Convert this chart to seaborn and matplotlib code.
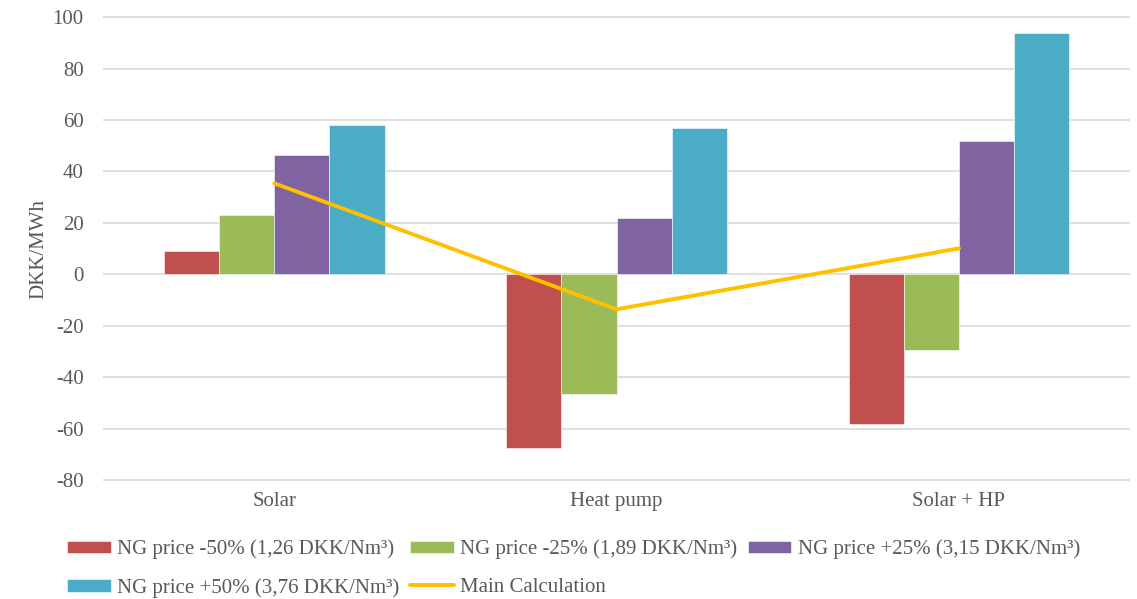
import numpy as np
import pandas as pd
import matplotlib
matplotlib.use("Agg")
import matplotlib.pyplot as plt
import seaborn as sns

# data
categories = ["Solar", "Heat pump", "Solar + HP"]
series_names = [
    "NG price -50% (1,26 DKK/Nm³)",
    "NG price -25% (1,89 DKK/Nm³)",
    "NG price +25% (3,15 DKK/Nm³)",
    "NG price +50% (3,76 DKK/Nm³)",
]
ng_minus50 = [9.0, -67.7, -58.4]
ng_minus25 = [23.0, -46.7, -29.6]
ng_plus25 = [46.3, 21.8, 52.0]
ng_plus50 = [58.0, 56.8, 93.8]
main_calc = [35.4, -13.6, 10.1]
line_name = "Main Calculation"

bar_colors = ["#C0504D", "#9BBB59", "#8064A2", "#4BACC6"]
line_color = "#FFC000"
text_color = "#595959"

sns.set_style("white")
plt.rcParams["font.family"] = ["Liberation Serif", "DejaVu Serif"]
plt.rcParams["axes.unicode_minus"] = False

df = pd.DataFrame({
    "category": categories * 4,
    "scenario": np.repeat(series_names, 3),
    "value": ng_minus50 + ng_minus25 + ng_plus25 + ng_plus50,
})

fig = plt.figure(figsize=(11.37, 5.99), dpi=100)
ax = fig.add_axes([0.0906, 0.1970, 0.9034, 0.7760])

sns.barplot(data=df, x="category", y="value", hue="scenario",
            hue_order=series_names, order=categories, palette=bar_colors,
            width=0.645, gap=0, saturation=1, edgecolor="white", linewidth=0.4,
            ax=ax, legend=True)
sns.lineplot(x=np.arange(len(categories)), y=main_calc, color=line_color,
             linewidth=2.8, ax=ax, label=line_name)

ax.set_xlim(-0.5, 2.5)
ax.set_ylim(-80.4, 100.4)
ax.set_yticks(np.arange(-80, 101, 20))
ax.yaxis.grid(True, color="#D9D9D9", linewidth=1.2)
ax.set_axisbelow(True)
for s in ax.spines.values():
    s.set_visible(False)
ax.tick_params(axis="both", length=0, labelsize=15, colors=text_color)
ax.tick_params(axis="y", pad=14)
ax.tick_params(axis="x", pad=8)
ax.set_xlabel("")
ax.set_ylabel("DKK/MWh", fontsize=15, color=text_color, labelpad=3)

handles, labels = ax.get_legend_handles_labels()
ax.get_legend().remove()
order = [0, 3, 1, 4, 2]
fig.legend([handles[i] for i in order], [labels[i] for i in order],
           loc="upper left", bbox_to_anchor=(0.052, 0.113), ncol=3,
           frameon=False, fontsize=15, labelcolor=text_color,
           handlelength=2.1, handleheight=0.53, handletextpad=0.3,
           columnspacing=0.5, labelspacing=0.9, borderaxespad=0)

fig.savefig("out.png", dpi=100)
